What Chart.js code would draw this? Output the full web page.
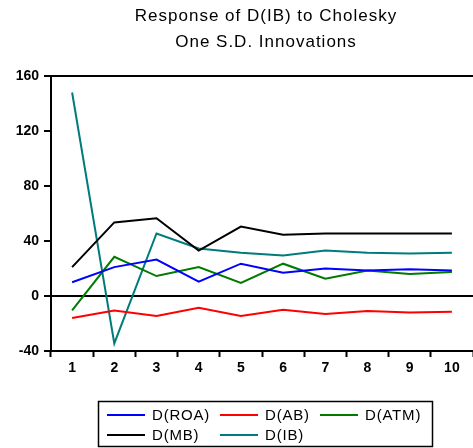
<!DOCTYPE html>
<html>
<head>
<meta charset="utf-8">
<script src="https://cdn.jsdelivr.net/npm/chart.js@4/dist/chart.umd.min.js"></script>
<style>
  html, body { margin: 0; padding: 0; background: #fff; }
  #wrap { width: 473px; height: 448px; }
</style>
</head>
<body>
<div id="wrap"><canvas id="irfChart" width="473" height="448"></canvas></div>
<script>
// periods after the shock
const periods = ['1', '2', '3', '4', '5', '6', '7', '8', '9', '10'];

// responses of D(IB)
const roa = [10, 21, 26.5, 10.5, 23.5, 17, 20, 18.5, 19.5, 18.5];
const ab  = [-16, -10.5, -14.5, -8.5, -14.5, -10, -13, -11, -12, -11.5];
const atm = [-10.5, 28.5, 14.5, 21, 9.5, 23.5, 12.5, 18.5, 16, 17.5];
const mb  = [21, 53.5, 56.5, 33, 50.5, 44.5, 45.5, 45.5, 45.5, 45.5];
const ib  = [148, -34.5, 45.5, 34.5, 31.5, 29.5, 33, 31.5, 31, 31.5];

const yTicks = [-40, 0, 40, 80, 120, 160];

const titleLines = ['Response of D(IB) to Cholesky', 'One S.D. Innovations'];

function series(label, data, color) {
    return {
        label: label,
        data: data,
        borderColor: color,
        backgroundColor: color,
        borderWidth: 2,
        pointRadius: 0,
        tension: 0,
        fill: false
    };
}

// title, frame and boxed legend drawn by hand (EViews style)
const eviewsLook = {
    id: 'eviewsLook',
    afterDraw(chart) {
        const ctx = chart.ctx;
        const area = chart.chartArea;
        ctx.save();

        // frame top line
        ctx.strokeStyle = '#000';
        ctx.lineWidth = 2;
        ctx.beginPath();
        ctx.moveTo(area.left, area.top);
        ctx.lineTo(area.right, area.top);
        ctx.stroke();

        // title
        ctx.fillStyle = '#000';
        ctx.font = '17px "Liberation Sans", Arial, sans-serif';
        ctx.letterSpacing = '1px';
        ctx.textAlign = 'center';
        ctx.textBaseline = 'middle';
        ctx.fillText(titleLines[0], 266, 16);
        ctx.fillText(titleLines[1], 266, 42);

        // legend box
        ctx.lineWidth = 1.5;
        ctx.strokeRect(98.5, 401.5, 334, 45);
        const cols = [107, 220, 320];
        const rows = [415, 435];
        ctx.font = '15px "Liberation Sans", Arial, sans-serif';
        ctx.letterSpacing = '0.8px';
        ctx.textAlign = 'left';
        chart.data.datasets.forEach((ds, i) => {
            const x = cols[i % 3];
            const y = rows[Math.floor(i / 3)];
            ctx.strokeStyle = ds.borderColor;
            ctx.lineWidth = 2;
            ctx.beginPath();
            ctx.moveTo(x, y);
            ctx.lineTo(x + 38, y);
            ctx.stroke();
            ctx.fillStyle = '#000';
            ctx.fillText(ds.label, x + 45, y + 1);
        });
        ctx.restore();
    }
};

const chart = new Chart(document.getElementById('irfChart'), {
    type: 'line',
    data: {
        labels: periods,
        datasets: [
            series('D(ROA)', roa, '#0000ff'),
            series('D(AB)', ab, '#ff0000'),
            series('D(ATM)', atm, '#007a00'),
            series('D(MB)', mb, '#000000'),
            series('D(IB)', ib, '#007b7b')
        ]
    },
    options: {
        responsive: false,
        animation: false,
        layout: { padding: { top: 76, right: -7, bottom: 67, left: 0 } },
        plugins: {
            legend: { display: false },
            title: { display: false },
            tooltip: { enabled: false }
        },
        scales: {
            x: {
                offset: true,
                grid: {
                    offset: true,
                    drawOnChartArea: false,
                    tickLength: 6,
                    tickColor: '#000',
                    tickWidth: 2
                },
                border: { color: '#000', width: 2 },
                ticks: {
                    color: '#000',
                    padding: 3,
                    maxRotation: 0,
                    font: { family: '"Liberation Sans", Arial, sans-serif', size: 14, weight: 'bold' }
                },
                afterFit(scale) { scale.height = 30; }
            },
            y: {
                min: -40,
                max: 160,
                afterBuildTicks(scale) { scale.ticks = yTicks.map(v => ({ value: v })); },
                grid: {
                    color: ctx => (ctx.tick && ctx.tick.value === 0 ? '#000' : 'rgba(0,0,0,0)'),
                    lineWidth: 2,
                    tickLength: 7,
                    tickColor: '#000',
                    tickWidth: 2
                },
                border: { color: '#000', width: 2 },
                ticks: {
                    color: '#000',
                    padding: 5,
                    font: { family: '"Liberation Sans", Arial, sans-serif', size: 14, weight: 'bold' }
                },
                afterFit(scale) { scale.width = 51; }
            }
        }
    },
    plugins: [eviewsLook]
});
</script>
</body>
</html>
